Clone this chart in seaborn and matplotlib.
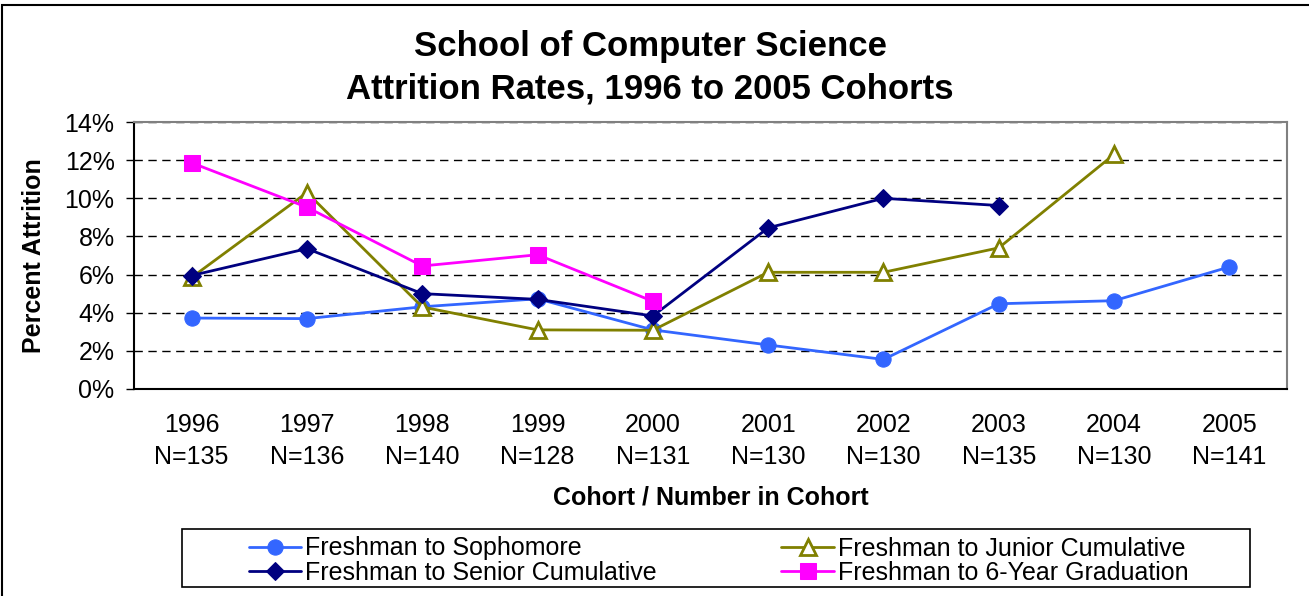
import matplotlib

matplotlib.use("Agg")

import matplotlib.pyplot as plt
from matplotlib.patches import Rectangle
import numpy as np
import pandas as pd
import seaborn as sns


COHORTS = ["1996", "1997", "1998", "1999", "2000", "2001", "2002", "2003", "2004", "2005"]
COHORT_SIZES = [135, 136, 140, 128, 131, 130, 130, 135, 130, 141]

SOPHOMORE = [3.72, 3.69, 4.31, 4.73, 3.10, 2.31, 1.55, 4.47, 4.63, 6.40]
JUNIOR = [5.85, 10.30, 4.30, 3.10, 3.08, 6.12, 6.12, 7.40, 12.30, np.nan]
SENIOR = [5.95, 7.36, 5.00, 4.70, 3.83, 8.45, 10.00, 9.62, np.nan, np.nan]
GRADUATION = [11.86, 9.53, 6.45, 7.04, 4.60, np.nan, np.nan, np.nan, np.nan, np.nan]

W, H = 1309, 596

sns.set_style("white")
plt.rcParams["font.family"] = ["Liberation Sans", "DejaVu Sans"]
plt.rcParams["text.color"] = "black"
plt.rcParams["axes.labelcolor"] = "black"
plt.rcParams["xtick.color"] = "black"
plt.rcParams["ytick.color"] = "black"

df = pd.DataFrame(
    {
        "pos": np.arange(len(COHORTS)),
        "Freshman to Sophomore": SOPHOMORE,
        "Freshman to Junior Cumulative": JUNIOR,
        "Freshman to Senior Cumulative": SENIOR,
        "Freshman to 6-Year Graduation": GRADUATION,
    }
)

styles = {
    "Freshman to Sophomore": dict(color="#3366FF", marker="o", markersize=11,
                                  markerfacecolor="#3366FF", markeredgecolor="#3366FF"),
    "Freshman to Junior Cumulative": dict(color="#808000", marker="^", markersize=11,
                                          markerfacecolor="white", markeredgecolor="#808000",
                                          markeredgewidth=2),
    "Freshman to Senior Cumulative": dict(color="#000080", marker="D", markersize=9,
                                          markerfacecolor="#000080", markeredgecolor="#000080"),
    "Freshman to 6-Year Graduation": dict(color="#FF00FF", marker="s", markersize=11,
                                          markerfacecolor="#FF00FF", markeredgecolor="#FF00FF"),
}

fig, ax = plt.subplots(figsize=(W / 100, H / 100), dpi=100)
fig.subplots_adjust(left=134 / W, right=1287 / W, top=1 - 122 / H, bottom=1 - 389 / H)

handles = {}
for name, st in styles.items():
    sns.lineplot(data=df, x="pos", y=name, ax=ax, linewidth=2, label=name, **st)
    handles[name] = ax.get_lines()[-1]

if ax.get_legend() is not None:
    ax.get_legend().remove()

ax.set_ylim(0, 14)
ax.set_yticks(np.arange(0, 15, 2))
ax.set_yticklabels([f"{v}%" for v in range(0, 15, 2)], fontsize=18)
ax.set_xlim(-0.5, len(COHORTS) - 0.5)
ax.set_xticks(np.arange(len(COHORTS)))
ax.set_xticklabels([f"{c}\nN={n}" for c, n in zip(COHORTS, COHORT_SIZES)],
                   fontsize=18, linespacing=1.45)
ax.set_xticks(np.arange(-0.5, len(COHORTS)), minor=True)
ax.tick_params(axis="x", which="major", length=0, pad=17)
ax.tick_params(axis="x", which="minor", direction="inout", length=14, width=1, color="black")
ax.tick_params(axis="y", which="major", direction="out", length=6, width=1, color="black",
               left=True, pad=8)

ax.yaxis.grid(True, linestyle=(0, (6, 4)), color="black", linewidth=1)
ax.xaxis.grid(False)

for side in ["top", "right"]:
    ax.spines[side].set_color("#808080")
    ax.spines[side].set_linewidth(1.5)
for side in ["left", "bottom"]:
    ax.spines[side].set_color("black")
    ax.spines[side].set_linewidth(1.5)

ax.set_xlabel("Cohort / Number in Cohort", fontsize=18, fontweight="bold", labelpad=12)
ax.set_ylabel("Percent Attrition", fontsize=18, fontweight="bold", labelpad=13)

fig.text(650 / W, 1 - 68 / H, "School of Computer Science\nAttrition Rates, 1996 to 2005 Cohorts",
         ha="center", va="center", fontsize=25, fontweight="bold", linespacing=1.35)

order = [
    "Freshman to Sophomore",
    "Freshman to Senior Cumulative",
    "Freshman to Junior Cumulative",
    "Freshman to 6-Year Graduation",
]
fig.legend([handles[n] for n in order], order, loc="upper left",
           bbox_to_anchor=(236 / W, 1 - 524 / H), ncol=2, frameon=False,
           borderpad=0, handlelength=2.1, handletextpad=0.15, columnspacing=5.0,
           labelspacing=0.0, fontsize=18)

fig.patches.append(Rectangle((182 / W, 1 - 587 / H), 1068 / W, 58 / H, transform=fig.transFigure,
                             fill=False, edgecolor="black", linewidth=1.2))
fig.patches.append(Rectangle((2 / W, -0.01), 1.05, 1.01 - 5 / H, transform=fig.transFigure,
                             fill=False, edgecolor="black", linewidth=1.5))

fig.savefig("out.png", dpi=100)
plt.close(fig)
